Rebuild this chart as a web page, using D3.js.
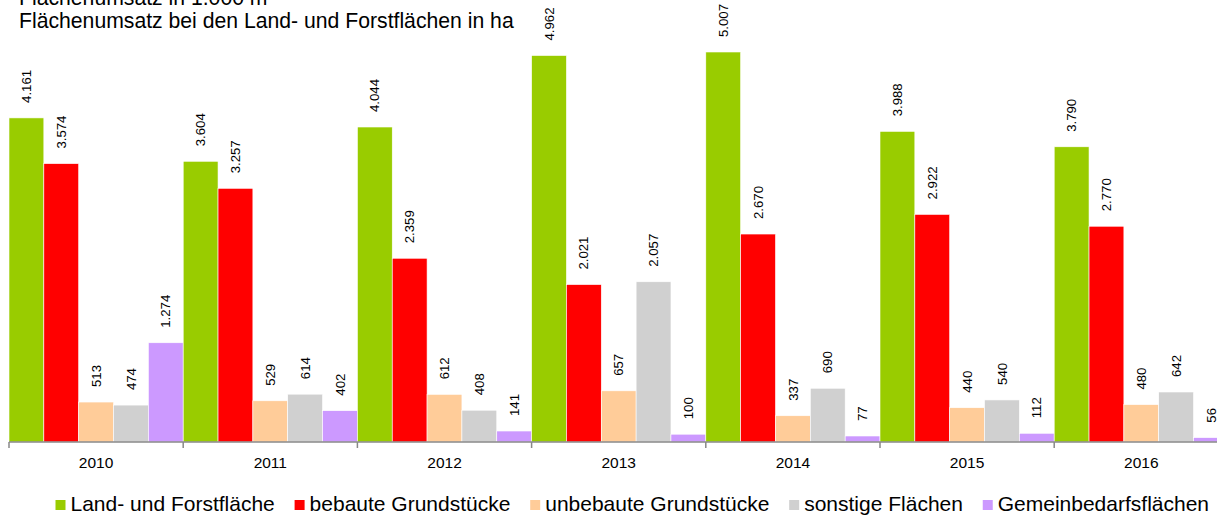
<!DOCTYPE html>
<html>
<head>
<meta charset="utf-8">
<script src="https://cdn.jsdelivr.net/npm/d3@7"></script>
<style>
  html, body { margin: 0; padding: 0; background: #fff; }
  svg { display: block; font-family: "Liberation Sans", Arial, sans-serif; }
</style>
</head>
<body>
<svg id="chart" width="1217" height="515"></svg>
<script>
const years = ["2010", "2011", "2012", "2013", "2014", "2015", "2016"];
const seriesNames = ["Land- und Forstfläche", "bebaute Grundstücke", "unbebaute Grundstücke", "sonstige Flächen", "Gemeinbedarfsflächen"];
const landForst   = [4161, 3604, 4044, 4962, 5007, 3988, 3790];
const bebaut      = [3574, 3257, 2359, 2021, 2670, 2922, 2770];
const unbebaut    = [513, 529, 612, 657, 337, 440, 480];
const sonstige    = [474, 614, 408, 2057, 690, 540, 642];
const gemeinbedarf = [1274, 402, 141, 100, 77, 112, 56];
const titleLines = ["Flächenumsatz in 1.000 m²", "Flächenumsatz bei den Land- und Forstflächen in ha"];
const colors = ["#99CC00", "#FF0000", "#FFCC99", "#D0D0D0", "#CC99FF"];

const seriesValues = [landForst, bebaut, unbebaut, sonstige, gemeinbedarf];
const svg = d3.select("#chart");

const baseY = 442;
const groupW = 174.2;
const x0 = d3.scaleBand().domain(years).range([9, 9 + groupW * years.length]).paddingInner(0).paddingOuter(0);
const x1 = d3.scaleBand().domain(d3.range(seriesNames.length)).range([0, x0.bandwidth()]).padding(0);
const y = d3.scaleLinear().domain([0, 5007]).range([baseY, baseY - 390]);

const locale = d3.formatLocale({ decimal: ",", thousands: ".", grouping: [3], currency: ["", "€"] });
const fmt = locale.format(",d");

// bars
const groups = svg.append("g").selectAll("g").data(years).join("g")
  .attr("transform", d => `translate(${x0(d)},0)`);

groups.each(function(yr, yi) {
  const g = d3.select(this);
  const vals = seriesValues.map((s, si) => ({ si, v: s[yi] }));
  g.selectAll("rect").data(vals).join("rect")
    .attr("x", d => x1(d.si))
    .attr("y", d => y(d.v))
    .attr("width", x1.bandwidth())
    .attr("height", d => baseY - y(d.v))
    .attr("fill", d => colors[d.si])
    .attr("stroke", "#fff")
    .attr("stroke-width", 0.6);
  g.selectAll("text").data(vals).join("text")
    .attr("transform", d => `translate(${x1(d.si) + x1.bandwidth() / 2},${y(d.v) - 15}) rotate(-90)`)
    .attr("text-anchor", "start")
    .attr("dy", "0.35em")
    .attr("font-size", 13.2)
    .attr("fill", "#000")
    .text(d => fmt(d.v));
});

// x axis
const axis = d3.axisBottom(x0).tickSize(0).tickPadding(0);
const ax = svg.append("g").attr("transform", `translate(0,${baseY})`).call(axis);
ax.selectAll(".tick text").attr("font-size", 15.5).attr("fill", "#000").attr("dy", null).attr("y", 26)
  .attr("font-family", "Liberation Sans, Arial, sans-serif");
// boundary tick marks
const bounds = years.map(d => x0(d)).concat([x0(years[years.length - 1]) + x0.bandwidth()]);
ax.selectAll(".bound").data(bounds).join("line").attr("class", "bound")
  .attr("x1", d => d).attr("x2", d => d).attr("y1", 0).attr("y2", 6)
  .attr("stroke", "#888").attr("stroke-width", 1.5);
ax.select(".domain").attr("stroke", "#888").attr("stroke-width", 1.5)
  .attr("d", `M${bounds[0]},0H${bounds[bounds.length - 1]}`);

// title
svg.append("g").selectAll("text").data(titleLines).join("text")
  .attr("x", 19).attr("y", (d, i) => 5 + i * 23)
  .attr("font-size", 21.2).attr("fill", "#000").text(d => d);

// legend
const leg = svg.append("g");
let lx = 55.5;
seriesNames.forEach((name, i) => {
  leg.append("rect").attr("x", lx).attr("y", 500).attr("width", 10).attr("height", 10).attr("fill", colors[i]);
  const t = leg.append("text").attr("x", lx + 15).attr("y", 511).attr("font-size", 21).attr("fill", "#000").text(name);
  lx += 15 + t.node().getComputedTextLength() + 19.8;
});
</script>
</body>
</html>
